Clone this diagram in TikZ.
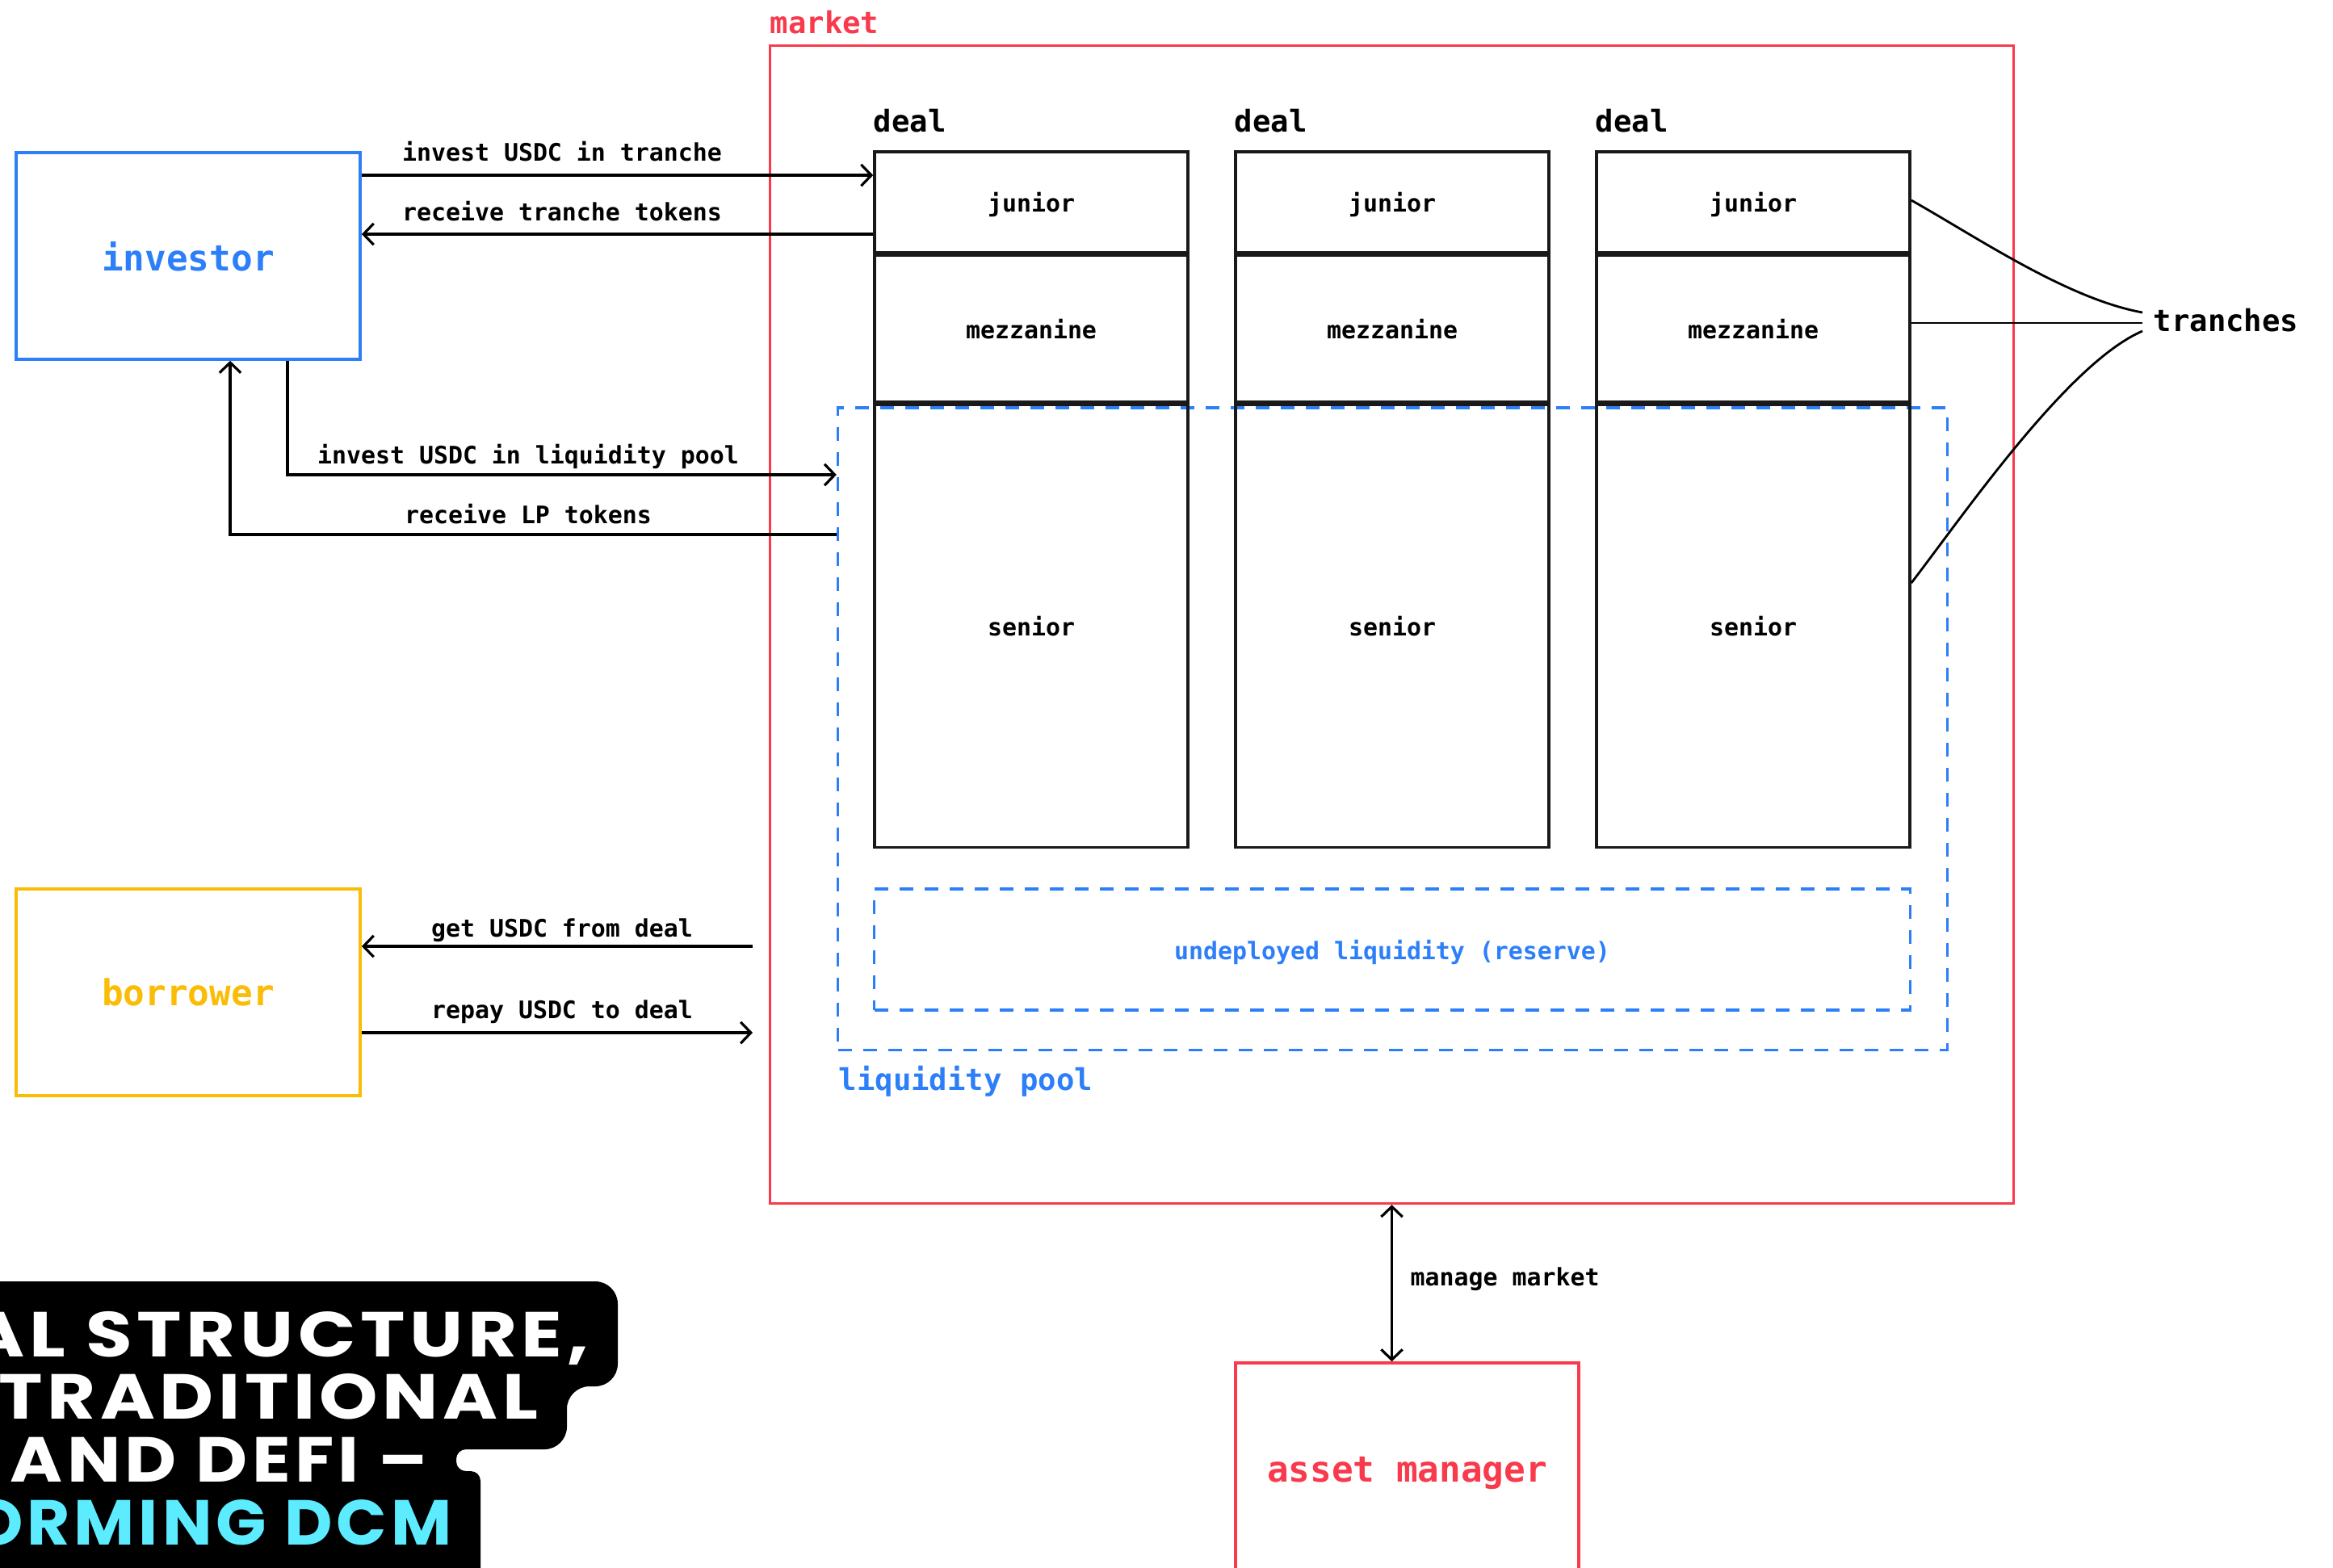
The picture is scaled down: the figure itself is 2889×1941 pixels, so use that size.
\documentclass[tikz,border=0pt]{standalone}
\usepackage{fontspec}
\setmonofont{DejaVu Sans Mono}
\newfontfamily\bannerfont[LetterSpace=6]{Poppins}
\usetikzlibrary{arrows.meta}
\definecolor{invblue}{HTML}{2D7FF9}
\definecolor{borryel}{HTML}{FBBC05}
\definecolor{mktred}{HTML}{F83A4C}
\definecolor{cyanban}{HTML}{5CEBFF}
\tikzset{
  lbl/.style={font=\ttfamily\bfseries\fontsize{8.5}{10}\selectfont, inner sep=0pt},
  midlbl/.style={font=\ttfamily\bfseries\fontsize{10.6}{12}\selectfont, inner sep=0pt},
  biglbl/.style={font=\ttfamily\bfseries\fontsize{12.6}{14}\selectfont},
  actor/.style={draw=#1, text=#1, line width=1pt, minimum width=4.26cm, minimum height=2.56cm, inner sep=0pt, text depth=0pt, biglbl},
  tranchebox/.style={draw=black!90, line width=0.95pt, minimum width=3.88cm, inner sep=0pt, text depth=0pt, lbl},
  arr/.style={line width=0.9pt, -{Straight Barb[length=3.6pt,width=7.5pt]}},
  arrboth/.style={line width=0.9pt, {Straight Barb[length=3.6pt,width=7.5pt]}-{Straight Barb[length=3.6pt,width=7.5pt]}},
  dashbox/.style={draw=invblue, line width=1pt, dash pattern=on 0.17cm off 0.14cm, inner sep=0pt},
  bannertext/.style={font=\bannerfont\bfseries\fontsize{22.4}{26}\selectfont, inner sep=0pt, anchor=base east, xscale=#1, transform shape},
  fanline/.style={line width=0.8pt},
}
\begin{document}
\begin{tikzpicture}[x=0.01cm,y=-0.01cm]
\useasboundingbox (0,0) rectangle (2889,1941);

% actors
\node[actor=invblue] (investor) at (233,317) {investor};
\node[actor=borryel] (borrower) at (233,1229) {borrower};

% market
\node[draw=mktred, line width=1pt, minimum width=15.39cm, minimum height=14.33cm, inner sep=0pt] (market) at (1723.5,773.5) {};
\node[midlbl, text=mktred, anchor=base west] (mktlabel) at (953,41) {market};

% liquidity pool
\node[dashbox, minimum width=13.73cm, minimum height=7.95cm] (lp) at (1724.5,902.5) {};
\node[midlbl, text=invblue, anchor=base west] (lplabel) at (1038,1350) {liquidity pool};
\node[dashbox, minimum width=12.82cm, minimum height=1.50cm, lbl, text depth=0pt, text=invblue] (reserve) at (1724,1176) {undeployed liquidity (reserve)};

% deals
\foreach \i/\cx in {1/1277,2/1724,3/2171}{
  \node[tranchebox, minimum height=1.25cm] (j\i) at (\cx,250.5) {junior};
  \node[tranchebox, minimum height=1.82cm] (m\i) at (\cx,407) {mezzanine};
  \node[tranchebox, minimum height=5.48cm] (s\i) at (\cx,775) {senior};
  \node[midlbl, anchor=base west] (deal\i) at ([yshift=0.23cm]j\i.north west) {deal};
}

% tranches fan
\node[midlbl, anchor=base west] (tranches) at (2666,410) {tranches};
\coordinate (t1) at (2653,387);
\coordinate (t2) at (2653,400);
\coordinate (t3) at (2653,410);
\coordinate (ys) at (0,722);
\draw[fanline] (j3.east |- 0,248) .. controls (2450,295) and (2560,370) .. (t1);
\draw[fanline] (m3.east |- t2) -- (t2);
\draw[fanline] (s3.east |- ys) .. controls (2430,640) and (2560,450) .. (t3);

% investor flows
\coordinate (r1) at (0,217);
\coordinate (r2) at (0,290);
\coordinate (c3) at (356,588);
\coordinate (c4) at (285,662);
\draw[arr] (investor.east |- r1) -- (j1.west |- r1);
\draw[arr] (j1.west |- r2) -- (investor.east |- r2);
\draw[arr] (investor.south -| c3) |- (lp.west |- c3);
\draw[arr] (lp.west |- c4) -| (investor.south -| c4);
\node[lbl, anchor=base] (l1) at (696,199) {invest USDC in tranche};
\node[lbl, anchor=base] (l2) at (696,273) {receive tranche tokens};
\node[lbl, anchor=base] (l3) at (654,574) {invest USDC in liquidity pool};
\node[lbl, anchor=base] (l4) at (654,648) {receive LP tokens};

% borrower flows
\coordinate (g1) at (932,1172);
\coordinate (g2) at (932,1279);
\draw[arr] (g1) -- (borrower.east |- g1);
\draw[arr] (borrower.east |- g2) -- (g2);
\node[lbl, anchor=base] (l5) at (696,1160) {get USDC from deal};
\node[lbl, anchor=base] (l6) at (696,1261) {repay USDC to deal};

% asset manager
\node[draw=mktred, text=mktred, line width=1pt, minimum width=4.25cm, minimum height=2.64cm, inner sep=0pt, text depth=0pt, biglbl] (am) at (1742.5,1820) {asset manager};
\draw[arrboth] (market.south) -- (market.south |- am.north);
\node[lbl, anchor=base west] (l7) at (1746,1592) {manage market};

% banner
\fill[black, rounded corners=0.28cm] (-60,1587) -- (765,1587) -- (765,1717) -- (702,1717) -- (702,1795) [rounded corners=0.12cm] -- (565,1795) -- (565,1822) -- (595,1822) [rounded corners=0.28cm] -- (595,2010) -- (-60,2010) -- cycle;
\node[bannertext=1.19, text=white] (b1) at (730,1680) {AL STRUCTURE,};
\node[bannertext=1.17, text=white] (b2) at (667,1757) {TRADITIONAL};
\node[bannertext=1.12, text=white] (b3) at (531,1835) {AND DEFI –};
\node[bannertext=1.04, text=cyanban] (b4) at (560,1913) {ORMING DCM};
\end{tikzpicture}
\end{document}
